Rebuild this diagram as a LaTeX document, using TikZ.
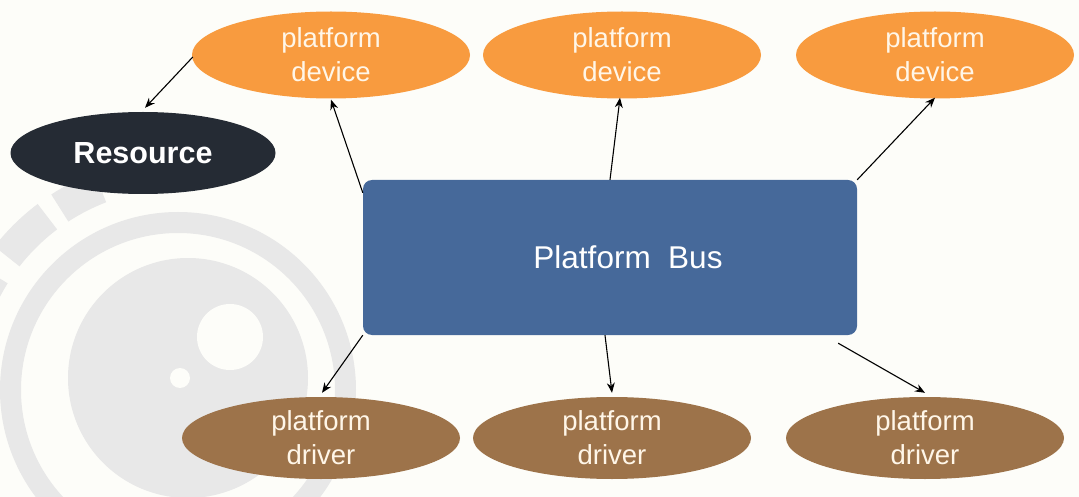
\documentclass[tikz,border=0pt]{standalone}
\usepackage{fontspec}
\setmainfont{Liberation Sans}
\usetikzlibrary{shapes.geometric,arrows.meta}
\definecolor{bgc}{HTML}{FDFDF9}
\definecolor{wm}{HTML}{E8E8E8}
\definecolor{devc}{HTML}{F89B3F}
\definecolor{drvc}{HTML}{9D734A}
\definecolor{resc}{HTML}{252B34}
\definecolor{busc}{HTML}{46699A}
\definecolor{lighttxt}{HTML}{FFF6E8}
\tikzset{
  devnode/.style={ellipse, fill=devc, draw=none, minimum width=278pt, minimum height=87pt, inner sep=0pt,
    align=center, text=lighttxt, font=\fontsize{27.5}{34}\selectfont},
  drvnode/.style={ellipse, fill=drvc, draw=none, minimum width=278pt, minimum height=82pt, inner sep=0pt,
    align=center, text=lighttxt, font=\fontsize{27.5}{34}\selectfont},
  resnode/.style={ellipse, fill=resc, draw=none, minimum width=265pt, minimum height=82pt, inner sep=0pt,
    text=white, font=\fontsize{30.5}{36}\selectfont\bfseries},
  busnode/.style={rectangle, rounded corners=9pt, fill=busc, draw=none, minimum width=494pt, minimum height=155pt,
    inner sep=0pt},
  bustext/.style={text=white, inner sep=0pt, font=\fontsize{31.5}{36}\selectfont},
  arr/.style={draw=black, line width=1.1pt, -{Stealth[length=10pt,width=8pt]}},
  wmblock/.style={draw=wm, line width=32pt}
}
\begin{document}
\begin{tikzpicture}[x=1pt,y=-1pt]
\useasboundingbox (0,0) rectangle (1079,497);
\fill[bgc] (0,0) rectangle (1079,497);
\begin{scope}
\clip (0,0) rectangle (1079,497);
% watermark
\fill[wm, even odd rule] (178,390) circle (178) (178,390) circle (157);
\fill[wm] (188,378) circle (120);
\fill[bgc] (230,337) circle (33);
\fill[bgc] (180,378) circle (10);
\draw[wmblock] (178,390) ++(237:217) arc[start angle=237, end angle=249, radius=217];
\draw[wmblock] (178,390) ++(218:217) arc[start angle=218, end angle=233, radius=217];
\draw[wmblock] (178,390) ++(200:217) arc[start angle=200, end angle=212, radius=217];
\end{scope}
% nodes
\node[devnode] (dev1) at (331,55) {platform\\device};
\node[devnode] (dev2) at (622,55) {platform\\device};
\node[devnode] (dev3) at (935,55) {platform\\device};
\node[resnode] (res) at (143,153) {Resource};
\node[busnode] (bus) at (610,257.5) {};
\node[bustext] (bustxt) at ([xshift=18pt]bus.center) {Platform\ \ Bus};
\node[drvnode] (drv1) at (321,438) {platform\\driver};
\node[drvnode] (drv2) at (612,438) {platform\\driver};
\node[drvnode] (drv3) at (925,438) {platform\\driver};
% connectors
\draw[arr] ([shift={(1,2)}]dev1.west) -- ([shift={(2,-4)}]res.north);
\draw[arr] ([shift={(0,13)}]bus.north west) -- ([shift={(0,1)}]dev1.south);
\draw[arr] (bus.north) -- ([shift={(-2,-1)}]dev2.south);
\draw[arr] (bus.north east) -- ([shift={(0,-1)}]dev3.south);
\draw[arr] (bus.south west) -- ([shift={(1,-4)}]drv1.north);
\draw[arr] ([shift={(-5,0)}]bus.south) -- ([shift={(0,-4)}]drv2.north);
\draw[arr] ([shift={(-19,8)}]bus.south east) -- ([shift={(0,-4)}]drv3.north);
\end{tikzpicture}
\end{document}
